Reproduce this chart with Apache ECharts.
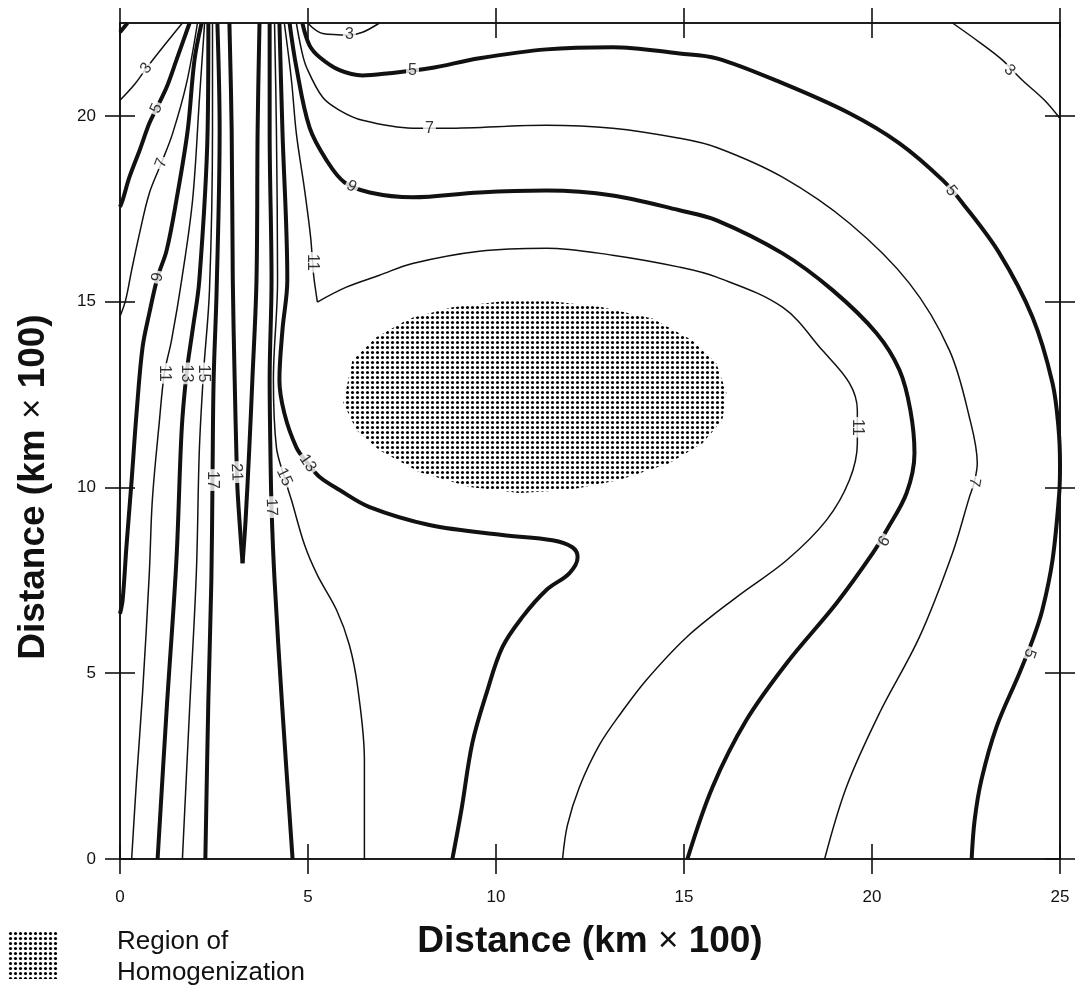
<!DOCTYPE html>
<html>
<head>
<meta charset="utf-8">
<title>Distance contours</title>
<script src="https://cdn.jsdelivr.net/npm/echarts@6/dist/echarts.min.js"></script>
<style>
  html, body { margin: 0; padding: 0; background: #fff; }
  #chart { width: 1078px; height: 996px; }
</style>
</head>
<body>
<div id="chart"></div>
<script>
// tick values
const xTicks = [0, 5, 10, 15, 20, 25]
const yTicks = [0, 5, 10, 15, 20]

// contour lines, [x, y] in km x 100
const c1Corner = [[0, 22.25], [0.2, 22.5]]
const c3TopLeft = [[1.66, 22.5], [1.18, 21.9], [0.70, 21.28], [0.39, 20.85], [0, 20.42]]
const c3TopMid = [[4.99, 22.5], [5.39, 22.22], [6.10, 22.18], [6.45, 22.25], [6.90, 22.5]]
const c3TopRight = [[22.14, 22.5], [22.86, 21.98], [23.47, 21.5], [24.0, 20.96], [24.59, 20.42], [25, 19.93]]

const c5Left = [[1.85, 22.5], [1.50, 21.5], [1.24, 20.77], [0.97, 20.2], [0.78, 19.8], [0.52, 19.07], [0.25, 18.35], [0.07, 17.73], [0, 17.55]]
const c5Right = [[4.85, 22.5], [5.04, 21.9], [5.31, 21.58], [5.84, 21.23], [6.45, 21.09], [7.17, 21.15], [8.23, 21.28], [9.56, 21.55],
  [11.34, 21.79], [13.10, 21.85], [14.88, 21.68], [15.87, 21.55], [17.62, 20.88], [19.40, 20.07], [20.73, 19.26], [21.88, 18.27],
  [22.41, 17.65], [23.39, 16.30], [24.27, 14.58], [24.80, 12.81], [24.96, 11.6], [25, 10.6], [24.98, 9.85], [24.8, 8.04],
  [24.53, 6.70], [24.27, 5.89], [23.92, 5.0], [23.31, 3.55], [22.91, 2.13], [22.73, 1.05], [22.65, 0]]

const c7Left = [[2.06, 22.5], [1.77, 20.88], [1.40, 19.53], [1.10, 18.73], [0.78, 17.92], [0.52, 16.84], [0.31, 15.85], [0.15, 15.04], [0, 14.6]]
const c7Right = [[4.69, 22.5], [4.83, 21.76], [4.96, 21.31], [5.39, 20.5], [5.84, 20.15], [6.45, 19.88], [7.78, 19.67], [8.68, 19.67],
  [11.34, 19.75], [13.10, 19.67], [14.88, 19.40], [15.87, 19.15], [17.62, 18.35], [19.40, 17.11], [20.99, 15.50], [22.06, 13.69],
  [22.59, 11.89], [22.80, 10.65], [22.72, 10.14], [22.59, 9.74], [22.14, 8.23], [21.26, 5.97], [20.20, 3.93], [19.32, 1.94], [18.74, 0]]

const c9Left = [[2.17, 22.5], [1.98, 21.5], [1.80, 19.61], [1.50, 17.73], [1.24, 16.38], [1.00, 15.66], [0.78, 14.69], [0.60, 13.77],
  [0.44, 12.0], [0.31, 10.2], [0.17, 8.39], [0.07, 6.97], [0, 6.6]]
const c9Right = [[4.51, 22.5], [4.69, 21.31], [5.04, 19.69], [5.49, 18.81], [5.97, 18.21], [6.64, 17.94], [7.78, 17.81], [9.56, 17.94],
  [11.34, 17.99], [13.10, 17.86], [14.88, 17.46], [15.87, 17.19], [17.62, 16.30], [18.95, 15.31], [20.12, 14.15], [20.73, 13.16],
  [21.02, 12.08], [21.13, 10.92], [20.92, 9.85], [20.39, 8.85], [20.02, 8.23], [19.06, 6.89], [17.73, 5.27], [16.66, 3.74], [15.76, 1.94], [15.09, 0]]

const c11Left = [[2.25, 22.5], [2.11, 20.42], [1.93, 17.73], [1.64, 15.58], [1.37, 13.96], [1.18, 13.07], [1.05, 11.81], [0.86, 9.66],
  [0.78, 7.70], [0.60, 4.47], [0.44, 2.13], [0.31, 0]]
const c11Upper = [[4.37, 22.5], [4.56, 20.96], [4.69, 19.53], [4.91, 18.0], [5.07, 16.73], [5.15, 15.71], [5.25, 14.99]]
const c11Lower = [[5.25, 14.99], [6.02, 15.39], [6.90, 15.71], [7.78, 16.03], [9.56, 16.36], [11.34, 16.44], [13.10, 16.25], [14.88, 15.93],
  [15.87, 15.66], [17.62, 14.85], [18.68, 13.69], [19.40, 12.81], [19.61, 12.08], [19.61, 11.19], [19.40, 10.2], [18.79, 9.12],
  [17.73, 8.04], [16.40, 7.05], [15.07, 5.97], [14.0, 4.82], [13.34, 3.95], [12.75, 3.07], [12.22, 1.94], [11.90, 0.91], [11.77, 0]]

const c13Left = [[2.35, 22.5], [2.33, 19.61], [2.11, 15.58], [1.93, 14.23], [1.77, 13.07], [1.64, 11.54], [1.50, 8.04], [1.24, 4.01], [1.0, 0]]
const c13Right = [[4.24, 22.5], [4.32, 19.61], [4.45, 15.58], [4.32, 14.23], [4.24, 12.89], [4.37, 12.0], [4.69, 11.08], [4.99, 10.65],
  [5.31, 10.28], [5.84, 9.93], [6.64, 9.47], [8.23, 8.99], [10.17, 8.72], [11.50, 8.58], [12.03, 8.39], [12.17, 8.12], [11.95, 7.69],
  [11.34, 7.24], [10.70, 6.51], [10.17, 5.70], [9.75, 4.47], [9.37, 3.12], [9.08, 1.32], [8.84, 0]]

const c15Left = [[2.46, 22.5], [2.46, 19.61], [2.38, 15.31], [2.22, 13.07], [2.11, 11.0], [2.03, 7.69], [1.85, 4.01], [1.66, 0]]
const c15Right = [[4.11, 22.5], [4.16, 19.61], [4.19, 15.58], [4.08, 12.89], [4.16, 11.08], [4.37, 10.28], [4.56, 9.66], [4.91, 8.45],
  [5.25, 7.64], [5.76, 6.70], [6.10, 5.76], [6.32, 4.63], [6.50, 2.66], [6.50, 0]]

const c17Left = [[2.59, 22.5], [2.65, 19.61], [2.57, 15.31], [2.49, 12.89], [2.46, 10.2], [2.43, 7.51], [2.35, 4.28], [2.27, 0]]
const c17Right = [[3.98, 22.5], [3.98, 19.61], [4.03, 15.58], [3.98, 12.89], [4.0, 11.0], [4.03, 9.47], [4.11, 7.51], [4.32, 4.01], [4.59, 0]]

const c21Left = [[2.91, 22.5], [2.97, 19.61], [3.0, 15.58], [3.05, 12.89], [3.10, 10.73], [3.13, 9.85], [3.26, 7.96]]
const c21Right = [[3.26, 7.96], [3.34, 9.12], [3.44, 11.08], [3.52, 12.89], [3.63, 15.58], [3.66, 19.61], [3.71, 22.5]]

// stippled region of homogenization (outline)
const homogenization = [[5.94, 12.27], [6.18, 13.42], [6.82, 14.04], [7.70, 14.55], [8.84, 14.85], [10.17, 15.01], [11.50, 15.01],
  [12.83, 14.85], [14.16, 14.55], [15.22, 13.96], [15.86, 13.34], [16.13, 12.54], [16.02, 11.81], [15.49, 11.19], [14.61, 10.65],
  [13.28, 10.20], [11.95, 9.93], [10.62, 9.85], [9.30, 10.01], [7.97, 10.41], [6.90, 11.0], [6.29, 11.54]]

// contour labels: x, y, level
const contourLabels = [
  [0.70, 21.28, '3'], [6.10, 22.2, '3'], [23.66, 21.23, '3'],
  [0.97, 20.2, '5'], [7.78, 21.22, '5'], [22.11, 17.98, '5'], [24.19, 5.54, '5'],
  [1.10, 18.73, '7'], [8.23, 19.66, '7'], [22.72, 10.14, '7'],
  [1.00, 15.66, '9'], [6.16, 18.1, '9'], [20.28, 8.58, '9'],
  [1.18, 13.07, '11'], [5.12, 16.06, '11'], [19.61, 11.62, '11'],
  [1.77, 13.07, '13'], [4.99, 10.65, '13'],
  [2.22, 13.07, '15'], [4.37, 10.28, '15'],
  [2.46, 10.2, '17'], [4.03, 9.47, '17'],
  [3.10, 10.41, '21']
]
const labelAngles = [52, 0, -45, 65, 0, -50, -110, 70, 0, -100, 78, -28, -120, -90, -90, -90, -90, -55, -90, -65, -90, -88, -88]

const contours = [
  [c1Corner, 1], [c3TopLeft, 3], [c3TopMid, 3], [c3TopRight, 3],
  [c5Left, 5], [c5Right, 5], [c7Left, 7], [c7Right, 7], [c9Left, 9], [c9Right, 9],
  [c11Left, 11], [c11Upper, 11], [c11Lower, 11], [c13Left, 13], [c13Right, 13],
  [c15Left, 15], [c15Right, 15], [c17Left, 17], [c17Right, 17], [c21Left, 21], [c21Right, 21]
]

const FONT = 'Liberation Sans, Arial, Helvetica, sans-serif'
const INK = '#111'

function dotCanvas() {
  let c = document.createElement('canvas')
  c.width = 5
  c.height = 5
  let g = c.getContext('2d')
  g.fillStyle = '#000'
  g.beginPath()
  g.arc(2.5, 2.5, 1.55, 0, Math.PI * 2)
  g.fill()
  return c
}
const dots = dotCanvas()

function axis(pos, inside, extra) {
  let horiz = (pos === 'bottom' || pos === 'top')
  return Object.assign({
    type: 'value',
    position: pos,
    min: 0,
    max: horiz ? 25 : 22.5,
    axisLine: { show: true, onZero: false, lineStyle: { color: INK, width: 1.6 } },
    axisTick: { show: true, inside: inside, length: 15, customValues: horiz ? xTicks : yTicks, lineStyle: { color: INK, width: 1.6 } },
    axisLabel: { show: false },
    splitLine: { show: false }
  }, extra || {})
}

const titleStyle = {
  fontSize: 37, fontWeight: 'bold', fontFamily: FONT, color: INK,
  rich: { t: { fontSize: 35, fontWeight: 'normal', fontFamily: FONT, color: INK } }
}
const tickLabel = { show: true, fontSize: 17, color: INK, fontFamily: FONT }

let series = contours.map(([data, level]) => ({
  type: 'line',
  data: data,
  smooth: 0.35,
  symbol: 'none',
  silent: true,
  z: 3,
  lineStyle: { color: INK, width: (level % 4 === 1) ? 4 : 1.5, cap: 'butt' }
}))

// stippled ellipse
series.unshift({
  type: 'custom',
  silent: true,
  z: 1,
  data: [0],
  renderItem: (params, api) => ({
    type: 'polygon',
    shape: { points: homogenization.map(p => api.coord(p)) },
    style: { fill: { image: dots, repeat: 'repeat' }, stroke: null }
  })
})

// contour level labels, white box breaks the line
series.push({
  type: 'scatter',
  symbolSize: 0,
  silent: true,
  z: 10,
  data: contourLabels.map((l, i) => ({
    value: [l[0], l[1]],
    name: l[2],
    label: { rotate: labelAngles[i] }
  })),
  label: {
    show: true,
    position: 'inside',
    formatter: '{b}',
    fontSize: 16,
    lineHeight: 15,
    fontFamily: FONT,
    color: '#000',
    backgroundColor: '#fff',
    padding: [0, 2]
  }
})

let chart = echarts.init(document.getElementById('chart'), null, { renderer: 'canvas' })
chart.setOption({
  animation: false,
  backgroundColor: '#fff',
  grid: { left: 120, top: 23, width: 940, height: 836 },
  xAxis: [
    axis('bottom', false, {
      axisLabel: Object.assign({ margin: 30, customValues: xTicks }, tickLabel),
      name: 'Distance (km {t|×} 100)',
      nameLocation: 'middle',
      nameGap: 64,
      nameTextStyle: titleStyle
    }),
    axis('bottom', true),
    axis('top', false),
    axis('top', true)
  ],
  yAxis: [
    axis('left', false, {
      axisLabel: Object.assign({ margin: 24, customValues: yTicks }, tickLabel),
      name: 'Distance (km {t|×} 100)',
      nameLocation: 'middle',
      nameGap: 68,
      nameTextStyle: Object.assign({}, titleStyle, { padding: [0, 92, 0, 0] })
    }),
    axis('left', true),
    axis('right', false),
    axis('right', true)
  ],
  graphic: [
    { type: 'rect', left: 8, top: 931, shape: { width: 50, height: 48 }, style: { fill: { image: dots, repeat: 'repeat' } } },
    { type: 'text', left: 117, top: 929, style: { text: 'Region of', fontSize: 26, fontFamily: FONT, fill: INK } },
    { type: 'text', left: 117, top: 960, style: { text: 'Homogenization', fontSize: 26, fontFamily: FONT, fill: INK } }
  ],
  series: series
})
</script>
</body>
</html>
